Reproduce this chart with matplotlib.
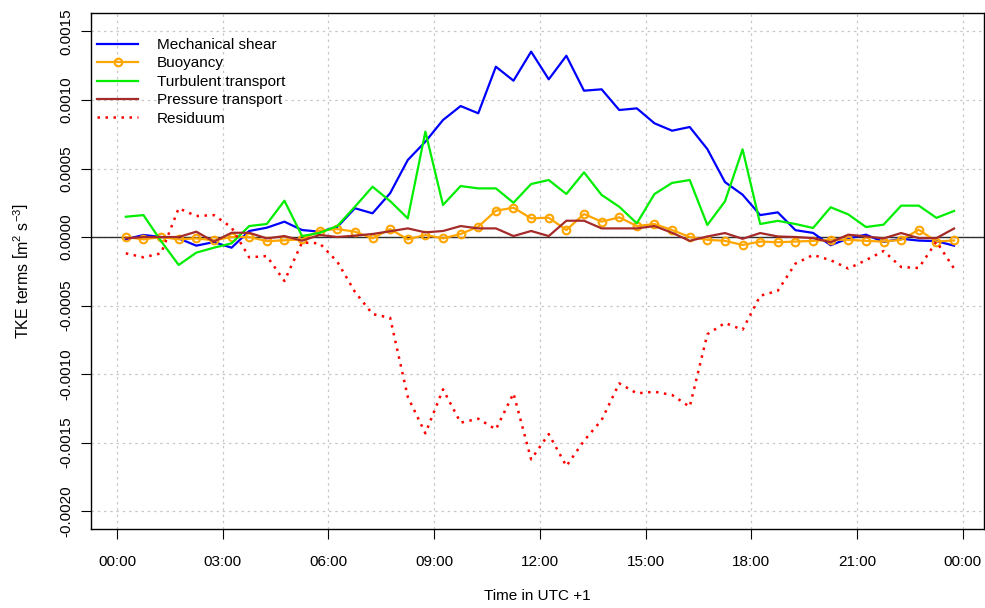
import numpy as np
import matplotlib
matplotlib.use("Agg")
import matplotlib.pyplot as plt

plt.rcParams['font.family'] = ['Liberation Sans', 'DejaVu Sans']
plt.rcParams['mathtext.fontset'] = 'custom'
plt.rcParams['mathtext.rm'] = 'Liberation Sans'
plt.rcParams['mathtext.it'] = 'Liberation Sans:italic'

# half-hourly values, 00:15 ... 23:45 (UTC+1)
hours = np.arange(0.25, 24.0, 0.5)

shear = [-0.000017, 0.000015, 0.0, -0.00001, -0.000063, -0.000037, -0.000078, 0.000044,
         0.000068, 0.000112, 0.000051, 0.000039, 0.000073, 0.00021, 0.000173, 0.00032,
         0.000562, 0.000696, 0.000854, 0.000956, 0.000903, 0.001243, 0.001141, 0.001353,
         0.001151, 0.001323, 0.001068, 0.001078, 0.000927, 0.000939, 0.00083, 0.000776,
         0.000803, 0.000642, 0.000401, 0.000309, 0.00016, 0.00018, 0.00005, 0.00003,
         -0.00006, -0.00001, 0.000017, -0.000036, -0.000013, -0.000026, -0.00003, -0.000063]

buoyancy = [0.0, -0.000017, 0.0, -0.000017, -0.00001, -0.000024, 0.0, 0.0,
            -0.00003, -0.000024, -0.000017, 0.000046, 0.000058, 0.000039, -0.00001, 0.000058,
            -0.000017, 0.000015, -0.00001, 0.000022, 0.000075, 0.000192, 0.000214, 0.000136,
            0.000141, 0.000051, 0.000168, 0.000112, 0.000144, 0.00008, 0.000095, 0.000051,
            0.0, -0.00002, -0.000028, -0.000058, -0.000033, -0.000038, -0.000033, -0.000028,
            -0.00002, -0.00002, -0.000028, -0.000033, -0.00002, 0.000053, -0.000033, -0.000025]

turbulent = [0.000148, 0.00016, -0.00003, -0.000204, -0.000114, -0.000078, -0.000046, 0.00008,
             0.000095, 0.000265, 0.000007, 0.00003, 0.00008, 0.000221, 0.000367, 0.000262,
             0.000136, 0.000769, 0.000234, 0.000372, 0.000355, 0.000355, 0.00025, 0.000387,
             0.000416, 0.000314, 0.000472, 0.000307, 0.000221, 0.0001, 0.000314, 0.000395,
             0.000416, 0.000088, 0.00026, 0.00064, 0.000095, 0.000118, 0.000095, 0.000066,
             0.000217, 0.000165, 0.000073, 0.00009, 0.000229, 0.000229, 0.00014, 0.00019]

pressure = [-0.00001, 0.0, 0.0, 0.0, 0.000039, -0.000034, 0.000031, 0.000031,
            -0.00001, 0.000007, -0.000027, 0.000015, 0.0, 0.00001, 0.000022, 0.000042,
            0.000063, 0.000034, 0.000044, 0.00008, 0.000063, 0.000063, 0.000007, 0.000044,
            0.000007, 0.000119, 0.000119, 0.000063, 0.000063, 0.000063, 0.00008, 0.000031,
            -0.000028, 0.000004, 0.000029, -0.000013, 0.000029, 0.000004, 0.0, -0.000008,
            -0.000038, 0.000017, 0.000004, -0.00001, 0.000029, -0.000008, -0.000008, 0.000062]

residuum = [-0.000119, -0.000148, -0.000119, 0.00021, 0.000153, 0.00016, 0.00007, -0.000148,
            -0.000139, -0.000321, -0.00004, -0.000046, -0.00018, -0.0004, -0.000562, -0.00059,
            -0.001166, -0.001433, -0.001112, -0.001355, -0.001326, -0.001404, -0.001141, -0.001623,
            -0.001438, -0.001672, -0.001487, -0.001336, -0.001068, -0.001141, -0.001129, -0.001153,
            -0.001239, -0.00071, -0.000627, -0.000677, -0.000429, -0.000392, -0.000194, -0.000131,
            -0.000169, -0.00023, -0.000169, -0.000102, -0.000219, -0.000226, -0.000033, -0.00023]

xticks = [0, 3, 6, 9, 12, 15, 18, 21, 24]
xlabels = ["00:00", "03:00", "06:00", "09:00", "12:00", "15:00", "18:00", "21:00", "00:00"]
yticks = [0.0015, 0.0010, 0.0005, 0.0, -0.0005, -0.0010, -0.0015, -0.0020]
ylabels = ["0.0015", "0.0010", "0.0005", "0.0000", "-0.0005", "-0.0010", "-0.0015", "-0.0020"]

fig = plt.figure(figsize=(9.85, 6.08), dpi=100)
ax = fig.add_axes([91/985, 1 - 529/608, (984 - 91)/985, (529 - 13)/608])

ax.grid(True, color='#c8c8c8', linestyle=(0, (2, 3)), linewidth=0.9)
ax.set_axisbelow(True)
ax.axhline(0, color='#303030', linewidth=1.0, zorder=1.5)

ax.plot(hours, shear, color='#0000FF', lw=1.6, label='Mechanical shear')
ax.plot(hours, buoyancy, color='#FFA500', lw=1.6, marker='o', ms=5.5, mfc='none', mew=1.5,
        label='Buoyancy')
ax.plot(hours, turbulent, color='#00EE00', lw=1.6, label='Turbulent transport')
ax.plot(hours, pressure, color='#A52A2A', lw=1.6, label='Pressure transport')
ax.plot(hours, residuum, color='#FF0000', lw=1.8, linestyle=(0, (1, 2.2)), label='Residuum')

ax.set_xlim(-0.738, 24.6)
ax.set_ylim(-0.002131, 0.001635)
ax.set_xticks(xticks)
ax.set_xticklabels(xlabels, fontsize=11)
ax.set_yticks(yticks)
ax.set_yticklabels(ylabels, fontsize=11, rotation=90, va='center')
ax.tick_params(direction='out', length=7, width=0.8, pad=12, colors='black')
ax.tick_params(axis='y', pad=6)
for s in ax.spines.values():
    s.set_linewidth(1.0)

ax.set_xlabel('Time in UTC +1', fontsize=11, labelpad=14)
ax.set_ylabel(r'TKE terms $\left[\mathrm{m}^{2}\ \mathrm{s}^{-3}\right]$', fontsize=11.5, labelpad=20)

ax.legend(loc='upper left', bbox_to_anchor=(97/985, 1 - 38/608), bbox_transform=fig.transFigure,
          frameon=False, fontsize=11, handlelength=2.7, handletextpad=1.2, labelspacing=0.29,
          borderpad=0, borderaxespad=0)

fig.savefig('out.png', dpi=100)
